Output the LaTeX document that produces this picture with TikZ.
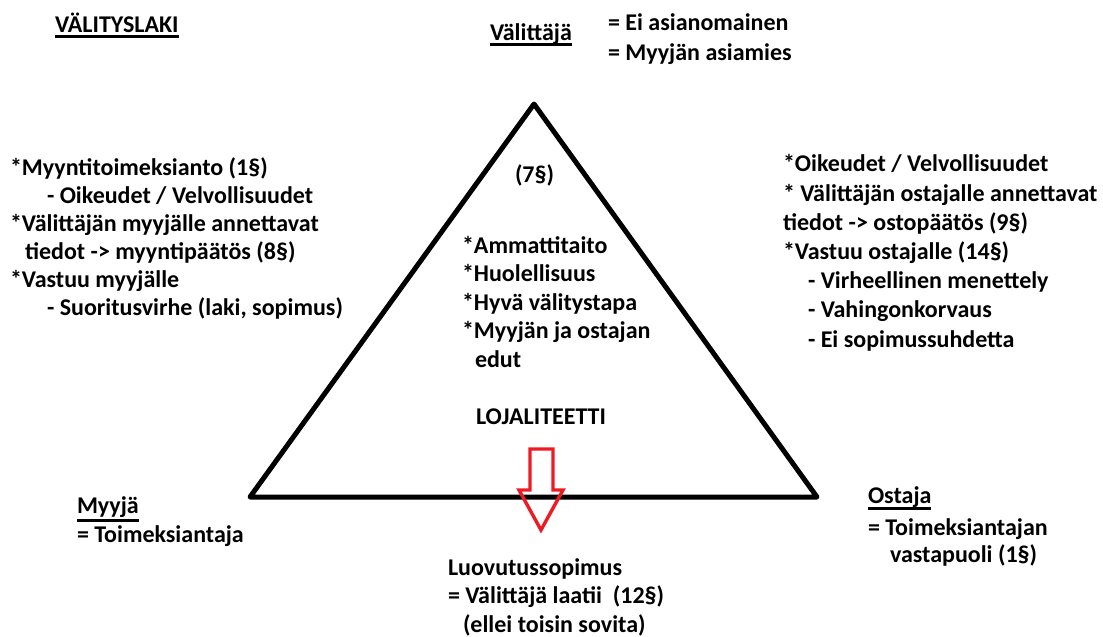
\documentclass[tikz,border=0pt]{standalone}
\usepackage{fontspec}
\setmainfont{Carlito}
\usetikzlibrary{positioning}

\definecolor{pilred}{RGB}{237,28,36}
\newcommand\ulin[2][3pt]{\setbox0\hbox{#2}\rlap{\rule[-#1]{\wd0}{2.6pt}}\box0}

\begin{document}
\begin{tikzpicture}
  [x=1pt, y=-1pt,
   every node/.style={inner sep=0pt, outer sep=0pt, anchor=base west,
                      font=\bfseries\fontsize{24}{28.5}\selectfont, align=left},
   rows/.style={font=\bfseries\fontsize{24}{#1}\selectfont},
   side/.style={line width=5pt, line join=round},
   pil/.style={draw=pilred, line width=3.4pt, line join=miter}]
  \useasboundingbox (0,0) rectangle (1103,637);
  % triangle
  \coordinate (top) at (534,104);
  \coordinate (bl) at (250,497);
  \coordinate (br) at (817,497);
  \draw[side] (bl) -- (top) -- (br) -- cycle;
  % arrow
  \coordinate (tip) at (541,530);
  \draw[pil] (tip) -- ++(-22,-40) -- ++(11,0) -- ++(0,-41) -- ++(23,0)
     -- ++(0,41) -- ++(10,0) -- cycle;

  \node (laki) at (55,32) {\ulin[5.5pt]{VÄLITYSLAKI}};
  \node (valittaja) at (490,40) {\ulin[5.5pt]{Välittäjä}};
  \node[rows=30] (valdef) at (608,60) {= Ei asianomainen\\= Myyjän asiamies};

  \node[rows=28] (vasen) at (10,315) {*Myyntitoimeksianto (1§)\\
    \hspace*{37pt}- Oikeudet / Velvollisuudet\\
    *Välittäjän myyjälle annettavat\\
    \hspace*{15pt}tiedot -> myyntipäätös (8§)\\
    *Vastuu myyjälle\\
    \hspace*{37pt}- Suoritusvirhe (laki, sopimus)};

  \node[rows=29.2] (oikea) at (783,347) {*Oikeudet / Velvollisuudet\\
    * Välittäjän ostajalle annettavat\\
    tiedot -> ostopäätös (9§)\\
    *Vastuu ostajalle (14§)\\
    \hspace*{25pt}- Virheellinen menettely\\
    \hspace*{25pt}- Vahingonkorvaus\\
    \hspace*{25pt}- Ei sopimussuhdetta};

  \node (pykala) at (515,182) {(7§)};
  \node[rows=28.5] (keski) at (462,367) {*Ammattitaito\\
    *Huolellisuus\\
    *Hyvä välitystapa\\
    *Myyjän ja ostajan\\
    \hspace*{13pt}edut};
  \node (lojal) at (476,424) {LOJALITEETTI};

  \node (myyja) at (77,513) {\ulin[8.5pt]{Myyjä}};
  \node (myydef) at (77,542) {= Toimeksiantaja};

  \node (ostaja) at (868,503) {\ulin[6.5pt]{Ostaja}};
  \node[rows=27] (ostdef) at (868,562) {= Toimeksiantajan\\
    \hspace*{22pt}vastapuoli (1§)};

  \node[rows=28.5] (luov) at (448,632) {Luovutussopimus\\
    = Välittäjä laatii\ \ (12§)\\
    \hspace*{15pt}(ellei toisin sovita)};
\end{tikzpicture}
\end{document}
